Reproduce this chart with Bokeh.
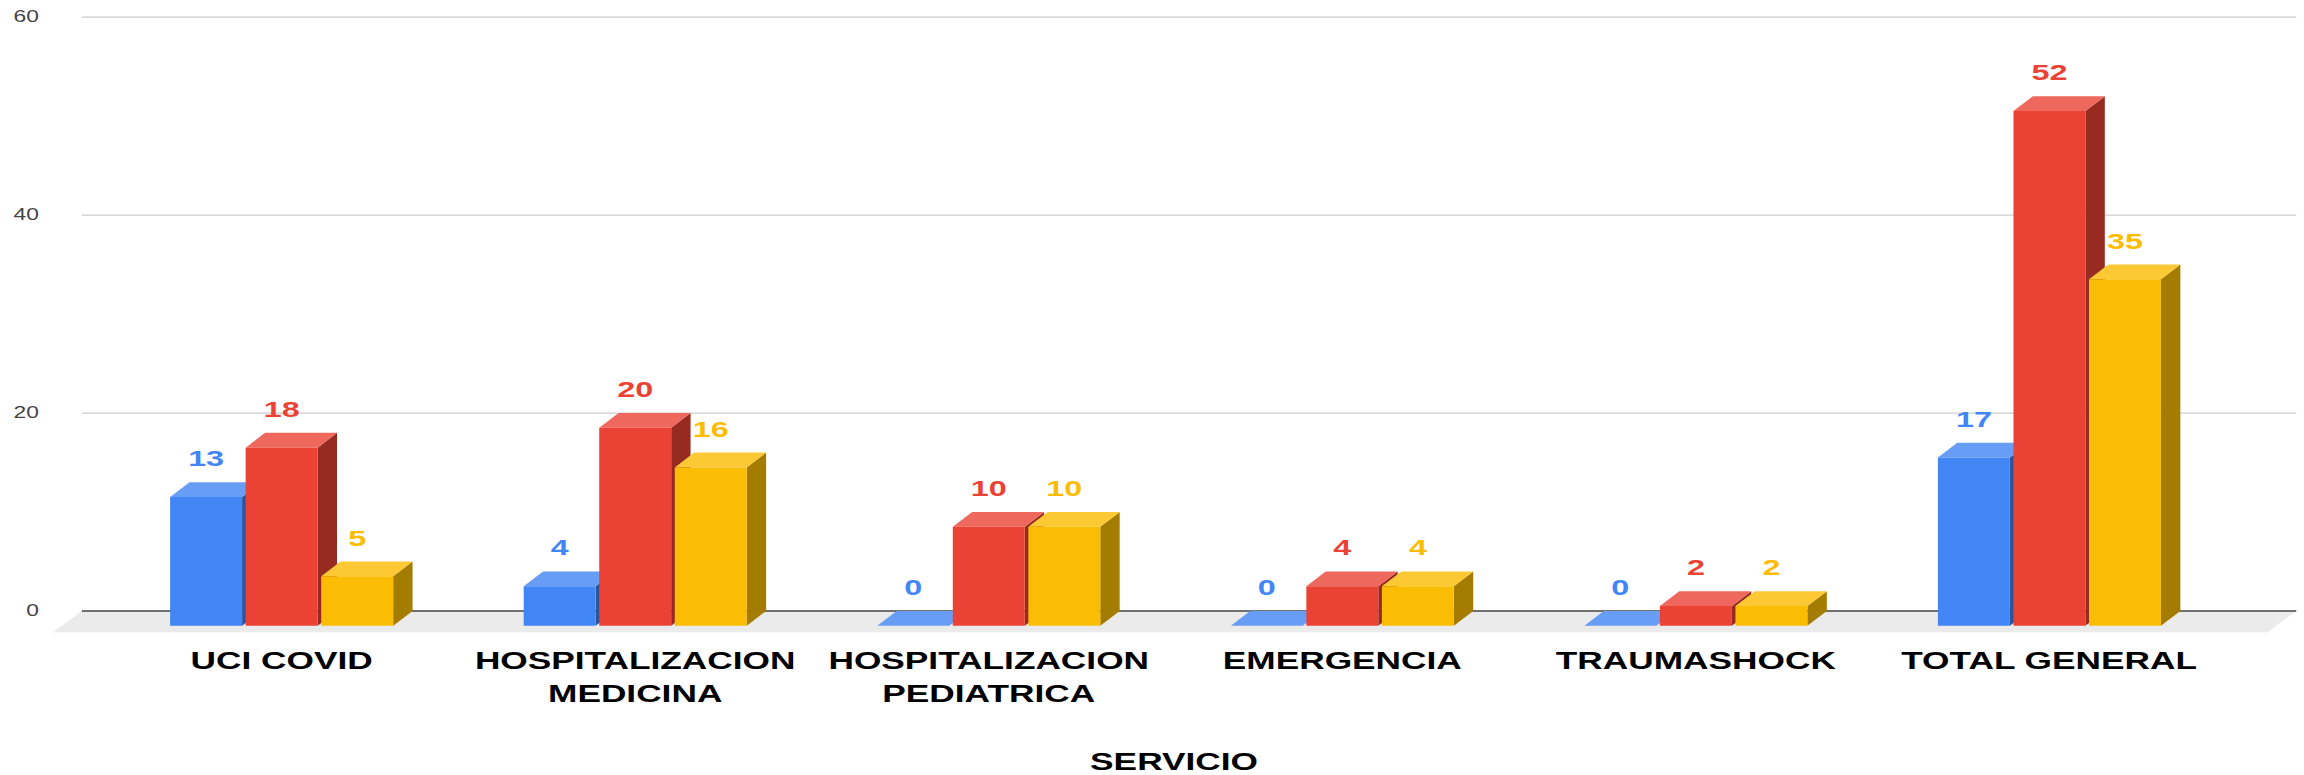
from bokeh.plotting import figure
from bokeh.models import FixedTicker, Range1d
from bokeh.embed import file_html
from bokeh.resources import INLINE
from bokeh.core.properties import value

categories = ["UCI COVID", "HOSPITALIZACION\nMEDICINA", "HOSPITALIZACION\nPEDIATRICA",
              "EMERGENCIA", "TRAUMASHOCK", "TOTAL GENERAL"]
series_blue = [13, 4, 0, 0, 0, 17]
series_red = [18, 20, 10, 4, 2, 52]
series_yellow = [5, 16, 10, 4, 2, 35]
y_ticks = [0, 20, 40, 60]

# face, top, side colours per series
styles_ = [
    (series_blue, "#4285F4", "#689DF6", "#2B569E", -1),
    (series_red, "#EA4335", "#EE685D", "#972B22", 0),
    (series_yellow, "#FBBC04", "#FCC934", "#A57C02", 1),
]

FONT = "Liberation Sans"
W, H = 1568, 759            # size that the plot lays itself out in
SX, SY = 2304 / W, 775 / H  # stretch of the whole plot on the page
W0, H0 = round(W / SX), round(H / SY) + 3   # Bokeh measures the host after the transform

PX_X = 353.8          # screen px per category
PX_Y = 9.89           # screen px per unit
bar_w = 72 / PX_X
step = 75.6 / PX_X
dx = 19.4 / PX_X
dy = 14.8 / PX_Y

p = figure(width=W0, height=H0, output_backend="svg", toolbar_location=None,
           x_range=Range1d((44 - 281) / PX_X, (2304 - 281) / PX_X),
           y_range=Range1d((610 - 633.6) / PX_Y, (610 - 8.2) / PX_Y),
           min_border_left=30, min_border_right=0, min_border_top=8, min_border_bottom=138,
           outline_line_color=None, background_fill_color="white", border_fill_color="white")
p.styles = {"transform": f"scale({SX},{SY})", "transform-origin": "0 0"}
p.grid.visible = False

# floor
x_left, x_right = (81 - 281) / PX_X, (2297 - 281) / PX_X
floor_dx = 29 / PX_X
floor_dy = 21.5 / PX_Y
p.patch([x_left, x_right, x_right - floor_dx, x_left - floor_dx],
        [0, 0, -floor_dy, -floor_dy], fill_color="#EBEBEB", line_color=None)

# gridlines
gt = [t for t in y_ticks if t != 0]
p.segment([x_left] * len(gt), gt, [x_right] * len(gt), gt, line_color="#CCCCCC", line_width=1.2)
p.segment([x_left], [0], [x_right], [0], line_color="#444444", line_width=1.6)

# 3D bars
for vals, face, top, side, k in styles_:
    for i, v in enumerate(vals):
        l = i + k * step - bar_w / 2
        r = l + bar_w
        b0, t0 = -dy, v - dy
        p.patch([r, r + dx, r + dx, r], [b0, 0, v, t0], fill_color=side, line_color=None)
        p.patch([l, l + dx, r + dx, r], [t0, v, v, t0], fill_color=top, line_color=None)
        if v > 0:
            p.patch([l, r, r, l], [b0, b0, t0, t0], fill_color=face, line_color=None)

# value labels
for vals, face, top, side, k in styles_:
    p.text([i + k * step for i in range(len(vals))], [v + dy for v in vals],
           text=[str(v) for v in vals], text_color=face, text_font=value(FONT),
           text_font_style="bold", text_font_size="22px", text_align="center",
           text_baseline="alphabetic", y_offset=-8.6)

ya = p.yaxis[0]
ya.ticker = FixedTicker(ticks=y_ticks)
ya.axis_line_color = None
ya.major_tick_line_color = None
ya.minor_tick_line_color = None
ya.major_tick_out = 0
ya.major_tick_in = 0
ya.major_label_standoff = 4
ya.major_label_text_font = FONT
ya.major_label_text_font_size = "15.5px"
ya.major_label_text_color = "#444444"

xa = p.xaxis[0]
xa.ticker = FixedTicker(ticks=list(range(len(categories))))
xa.major_label_overrides = {i: c for i, c in enumerate(categories)}
xa.axis_line_color = None
xa.major_tick_line_color = None
xa.minor_tick_line_color = None
xa.major_label_standoff = 6
xa.major_label_text_font = FONT
xa.major_label_text_font_style = "bold"
xa.major_label_text_font_size = "24px"
xa.major_label_text_color = "#000000"
xa.axis_label = "SERVICIO"
xa.axis_label_text_font = FONT
xa.axis_label_text_font_style = "bold"
xa.axis_label_text_font_size = "24px"
xa.axis_label_text_color = "#000000"
xa.axis_label_standoff = 36

open("out.html", "w").write(file_html(p, INLINE))
